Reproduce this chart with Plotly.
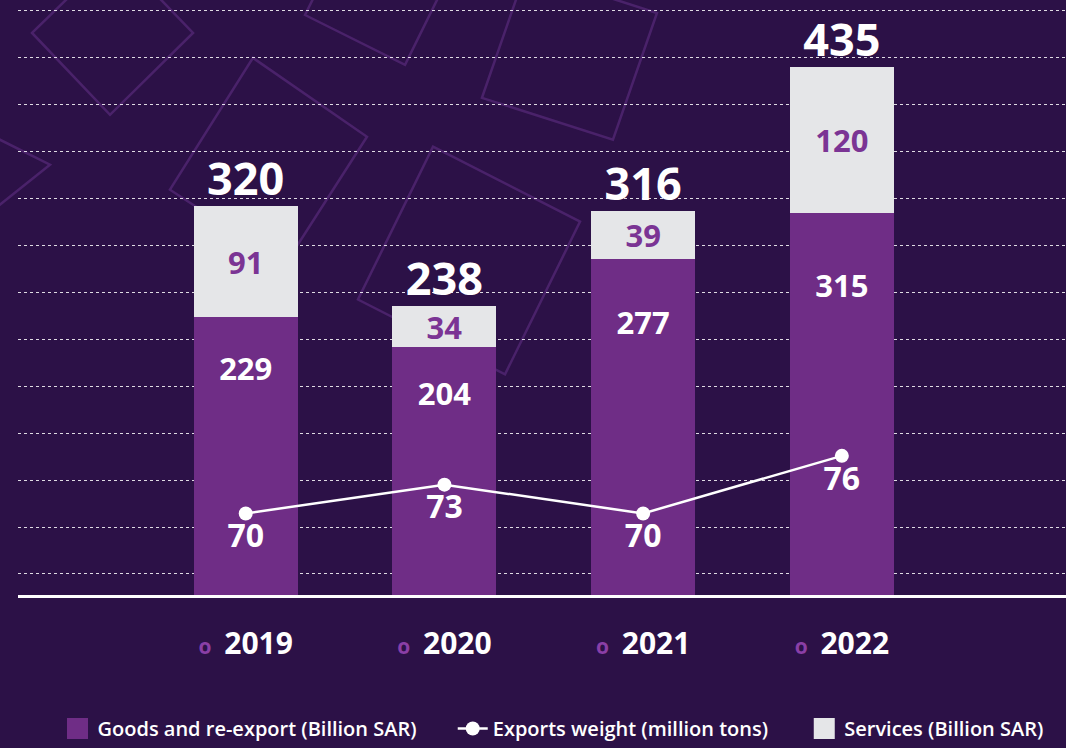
import plotly.graph_objects as go

# ── data ──────────────────────────────────────
years = ["2019", "2020", "2021", "2022"]
goods = [229, 204, 277, 315]          # Billion SAR
services = [91, 34, 39, 120]          # Billion SAR
totals = [320, 238, 316, 435]         # Billion SAR
weight = [70, 73, 70, 76]             # million tons

# ── style ─────────────────────────────────────
BG = "#2c1147"
PURPLE = "#6f2d86"
GREY = "#e5e6e8"
RING = "#8a3fa6"
FONT = "Open Sans"
W, H = 1066, 748
PLOT_L, PLOT_B = 18, 596   # plot area left edge / baseline in px
PAD = "\u00a0" * 6         # extra room between legend entries

# decorative tilted squares in the background (pixel coords)
SQUARES = [
    [(32, 33), (115, -48), (193, 33), (110, 115)],
    [(253, 58), (367, 137), (285, 265), (170, 190)],
    [(305, 15), (405, 65), (437, 0), (337, -50)],
    [(482, 98), (613, 140), (657, 13), (526, -29)],
    [(433, 147), (580, 222), (505, 375), (358, 300)],
    [(-40, 120), (50, 165), (0, 205), (-80, 190)],
]


def px_path(pts):
    # convert pixel coords to a paper-coordinate svg path
    pw, ph = W - PLOT_L, PLOT_B
    seg = []
    for i, (x, y) in enumerate(pts):
        seg.append(("M" if i == 0 else "L") + f"{(x - PLOT_L) / pw:.4f},{(PLOT_B - y) / ph:.4f}")
    return " ".join(seg) + " Z"


fig = go.Figure()

fig.add_trace(go.Bar(
    x=years, y=goods, name="Goods and re-export (Billion SAR)",
    marker=dict(color=PURPLE, line_width=0), width=0.523,
    showlegend=False, hoverinfo="skip",
))
fig.add_trace(go.Bar(
    x=years, y=services, name="Services (Billion SAR)",
    marker=dict(color=GREY, line_width=0), width=0.523,
    text=services, textposition="inside", insidetextanchor="middle",
    constraintext="none", textangle=0,
    textfont=dict(family=FONT, size=31, color="#7b3494", weight="bold"),
    showlegend=False, hoverinfo="skip",
))
# goods value labels
fig.add_trace(go.Scatter(
    x=years, y=[g * 0.8 for g in goods], mode="text", text=goods,
    textfont=dict(family=FONT, size=31, color="white", weight="bold"),
    showlegend=False, hoverinfo="skip",
))
# totals above the stacks
fig.add_trace(go.Scatter(
    x=years, y=totals, mode="text", text=totals, textposition="top center",
    textfont=dict(family=FONT, size=45, color="white", weight="bold"),
    showlegend=False, hoverinfo="skip", cliponaxis=False,
))
fig.add_trace(go.Scatter(
    x=years, y=weight, yaxis="y2", name="Exports weight (million tons)" + PAD,
    mode="lines+markers+text", text=weight, textposition="bottom center",
    line=dict(color="white", width=2.5), marker=dict(color="white", size=14),
    textfont=dict(family=FONT, size=32, color="white", weight="bold"),
    legendrank=2, hoverinfo="skip", cliponaxis=False,
))

# legend-only entries so the swatches can be bigger than plotly's bar icon
for name, col, rank in [("Goods and re-export (Billion SAR)" + PAD, PURPLE, 1),
                        ("Services (Billion SAR)", GREY, 3)]:
    fig.add_trace(go.Scatter(
        x=[None], y=[None], mode="markers", name=name, legendrank=rank,
        marker=dict(symbol="square", size=16, color=col, line=dict(color=col, width=5)),
    ))

shapes = [dict(type="path", path=px_path(sq), xref="paper", yref="paper",
               line=dict(color="rgba(120,60,160,0.4)", width=2.5), layer="below")
          for sq in SQUARES]

ticktext = [f"<span style='color:{RING};font-size:21px'><b>o</b></span> \u2009{y}" for y in years]

fig.update_layout(
    width=W, height=H,
    barmode="stack",
    paper_bgcolor=BG, plot_bgcolor=BG,
    font=dict(family=FONT, color="white"),
    margin=dict(l=PLOT_L, r=0, t=0, b=H - PLOT_B),
    shapes=shapes,
    xaxis=dict(
        type="category", range=[-1.146, 4.128],
        tickvals=years, ticktext=ticktext,
        tickfont=dict(family=FONT, size=30, color="white", weight="bold"),
        ticks="", ticklabelstandoff=20,
        showline=True, linecolor="white", linewidth=3,
        showgrid=False, zeroline=False,
    ),
    yaxis=dict(
        range=[0, 490], tick0=17.3, dtick=38.64,
        showticklabels=False, ticks="",
        showgrid=True, gridcolor="rgba(255,255,255,0.85)", gridwidth=1,
        griddash="3px,3px", zeroline=False,
    ),
    yaxis2=dict(range=[61.5, 123.5], overlaying="y", visible=False),
    legend=dict(
        orientation="h", x=0.5105, xanchor="center", y=-0.225, yanchor="middle",
        font=dict(family=FONT, size=20, color="white", weight=600),
        bgcolor="rgba(0,0,0,0)", traceorder="normal", itemsizing="trace",
    ),
    showlegend=True,
)

fig.write_html("out.html", config={"displayModeBar": False},
               post_script="document.body.style.margin='0';")
